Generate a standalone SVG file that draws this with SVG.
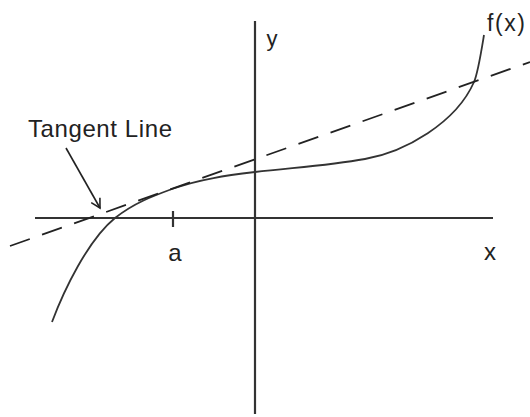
<svg xmlns="http://www.w3.org/2000/svg" width="530" height="417" viewBox="0 0 530 417">
<defs>
<style>
.axis{stroke:#333;stroke-width:2.2;fill:none}
.curve{stroke:#333;stroke-width:1.8;fill:none}
.tan{stroke:#222;stroke-width:1.8;fill:none;stroke-dasharray:21 13}
.lbl{font-family:"Liberation Sans",Arial,sans-serif;fill:#222}
</style>
<marker id="arr" markerWidth="12" markerHeight="12" refX="10" refY="6" orient="auto" markerUnits="userSpaceOnUse">
<path d="M1,1 L10,6 L1,11" fill="none" stroke="#222" stroke-width="1.6"/>
</marker>
</defs>
<rect width="530" height="417" fill="#fff"/>
<g id="axes">
<line class="axis" x1="35" y1="218" x2="493" y2="218"/>
<line class="axis" x1="255" y1="21" x2="255" y2="414"/>
<line class="axis" x1="173" y1="211" x2="173" y2="227"/>
</g>
<g id="curve">
<path class="curve" d="M52,322 C64,290 88,240 115,218 C134,203 153,196 172,189 C200,179 227,175.4 255,172 C292,167.6 328,165.7 365,159 C405,151.8 456,123 474,82 C478,73 482,47 484,35"/>
</g>
<g id="connectors">
<line class="tan" x1="10" y1="246" x2="530" y2="62"/>
<line x1="66" y1="148" x2="100" y2="208" stroke="#222" stroke-width="1.6" marker-end="url(#arr)"/>
</g>
<g id="labels">
<text class="lbl" x="28" y="137" font-size="24" textLength="144">Tangent Line</text>
<text class="lbl" x="175" y="261" font-size="24" text-anchor="middle">a</text>
<text class="lbl" x="490" y="260" font-size="24" text-anchor="middle">x</text>
<text class="lbl" x="272" y="46" font-size="22" text-anchor="middle">y</text>
<text class="lbl" x="487" y="31" font-size="23" textLength="38">f(x)</text>
</g>
</svg>
